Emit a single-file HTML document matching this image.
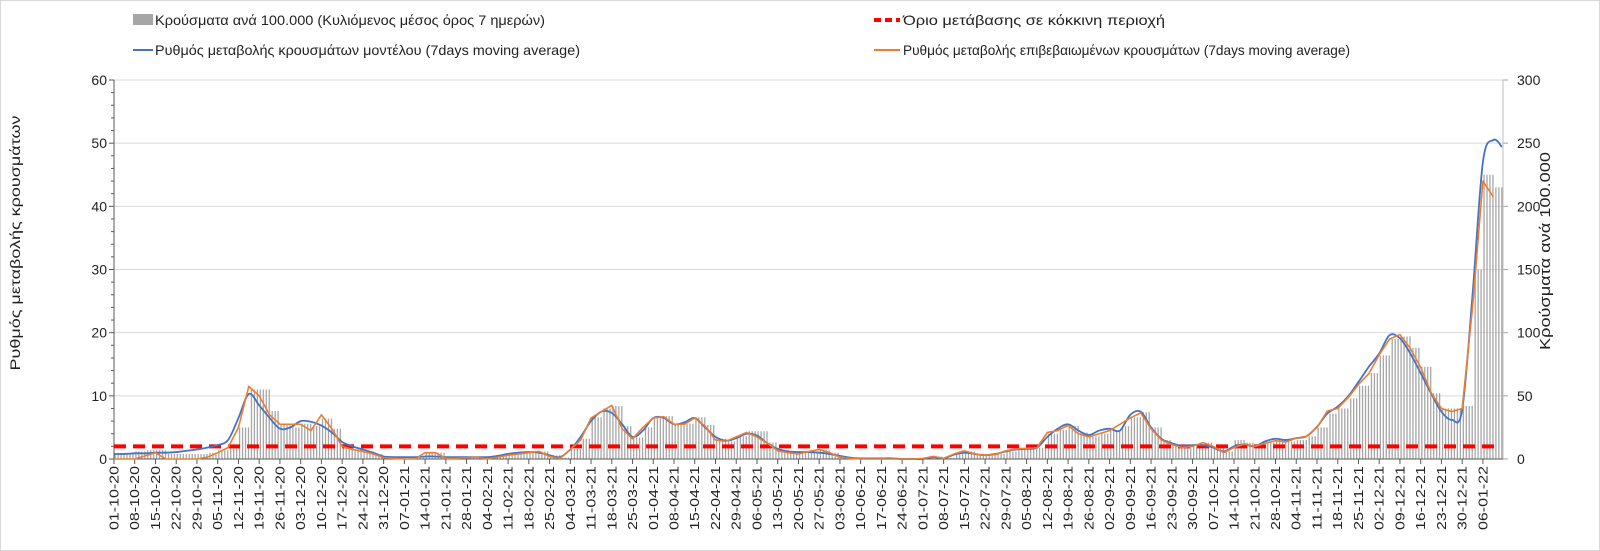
<!DOCTYPE html>
<html><head><meta charset="utf-8"><style>
html,body{margin:0;padding:0;background:#fff;}
svg{display:block;font-family:"Liberation Sans","DejaVu Sans",sans-serif;}
</style></head><body>
<svg id="chart" width="1600" height="551" viewBox="0 0 1600 551" xmlns="http://www.w3.org/2000/svg">
<rect x="0.5" y="0.5" width="1599" height="550" fill="#fff" stroke="#d9d9d9"/>
<g id="grid"></g>
<g id="bars"></g>
<g id="axes"></g>
<g id="lines"></g>
<g>
  <g>
    <rect x="133" y="14" width="20" height="11" fill="#a6a6a6"/>
    <text x="155" y="25" font-size="14" textLength="390" lengthAdjust="spacingAndGlyphs" fill="#222">Κρούσματα ανά 100.000 (Κυλιόμενος μέσος όρος 7 ημερών)</text>
  </g>
  <g>
    <line x1="133" y1="50" x2="153" y2="50" stroke="#4472c4" stroke-width="2"/>
    <text x="155" y="55" font-size="14" textLength="425" lengthAdjust="spacingAndGlyphs" fill="#222">Ρυθμός μεταβολής κρουσμάτων μοντέλου (7days moving average)</text>
  </g>
  <g>
    <line x1="874" y1="20" x2="900" y2="20" stroke="#ff0000" stroke-width="4" stroke-dasharray="7,4"/>
    <text x="903" y="25" font-size="14" textLength="262" lengthAdjust="spacingAndGlyphs" fill="#222">Όριο μετάβασης σε κόκκινη περιοχή</text>
  </g>
  <g>
    <line x1="874" y1="50" x2="900" y2="50" stroke="#ed7d31" stroke-width="2"/>
    <text x="903" y="55" font-size="14" textLength="447" lengthAdjust="spacingAndGlyphs" fill="#222">Ρυθμός μεταβολής επιβεβαιωμένων κρουσμάτων (7days moving average)</text>
  </g>
</g>
<text transform="translate(20,243) rotate(-90)" text-anchor="middle" font-size="14" textLength="255" lengthAdjust="spacingAndGlyphs" fill="#222">Ρυθμός μεταβολής κρουσμάτων</text>
<text transform="translate(1550,251) rotate(-90)" text-anchor="middle" font-size="15" textLength="198" lengthAdjust="spacingAndGlyphs" fill="#222">Κρούσματα ανά 100.000</text>
</svg>
<script>
// half-week samples (every 3.5 days from 01-10-2020)
const barsCases = [4,4,6,7,7,4,4,4,4,5,7,10,
25,55,55,38,28,25,28,26,32,24,12,8,6,4,
2,1,1,1,5,5,1,1,1,2,
2,3,4,5,6,6,3,1,8,16,33,40,
42,26,17,25,33,34,28,28,33,27,16,14,18,22,
22,13,7,5,5,6,7,5,2,1,
0,0,0,0,0,0,1,2,1,5,6,4,3,4,6,8,8,9,
20,23,26,21,18,20,23,26,33,37,25,15,11,9,10,13,
10,6,15,13,11,13,15,14,15,
18,25,36,40,48,58,68,82,95,97,88,73,52,40,40,42,150,225,215,238];
const modelRate = [0.8,0.8,0.9,0.9,1.0,1.0,1.1,1.3,1.5,1.8,2.2,3.0,
6.5,10.3,8.5,6.5,4.8,5.0,6.0,5.9,5.3,4.2,2.7,2.0,1.5,1.0,
0.4,0.3,0.3,0.3,0.4,0.4,0.3,0.3,0.3,0.3,
0.3,0.5,0.8,1.0,1.1,1.0,0.6,0.3,1.5,3.5,6.0,7.5,
7.3,5.5,3.5,4.5,6.5,6.5,5.5,5.8,6.5,5.0,3.5,2.9,3.3,4.0,
3.7,2.5,1.6,1.2,1.1,1.1,1.0,0.8,0.5,0.2,
0.1,0.1,0.1,0.1,0,0,0,0.3,0.1,0.7,1.0,0.8,0.6,0.8,1.2,1.5,1.6,1.8,
3.5,4.8,5.5,4.5,3.8,4.5,4.8,4.5,7.0,7.5,5.0,3.2,2.5,2.1,2.2,2.2,
1.8,1.2,2.0,2.3,2.0,2.8,3.2,3.0,3.3,
3.6,5.1,7.2,8.3,9.9,12.2,14.6,16.7,19.6,19.1,16.7,13.6,10.4,7.5,6.2,7.8,26,47,50.5,49.4];
const confirmedRate = [0,0,0,0.5,1.0,0,0,0,0,0.3,1.0,1.8,
5,11.5,10,7,5.5,5.5,5.5,4.5,7,4.8,2.0,1.5,1.2,0.8,
0.2,0.1,0,0,1.0,1.0,0.1,0.1,0.2,0.3,
0,0.3,0.6,0.8,1.0,1.2,0.4,0.1,1.5,3.0,6.5,7.5,
8.5,4.8,3.2,5.0,6.5,6.7,5.5,5.5,6.5,5.2,3.0,2.8,3.5,4.2,
3.5,2.5,1.3,1.0,0.8,1.2,1.5,1.0,0.3,0.1,
0,0,0,0,0,0,0.1,0.4,0.1,0.8,1.3,0.8,0.6,0.7,1.3,1.6,1.7,1.8,
4.2,4.5,5.3,4.0,3.5,4.0,4.5,5.5,6.5,7.3,4.8,3.0,2.3,1.8,2.0,2.6,
2.0,1.0,1.8,2.4,2.0,2.5,2.9,2.7,3.3,
3.6,5,7.6,8.0,9.7,11.8,13.5,16.5,19.0,19.7,17.5,14.5,10.5,8.0,7.5,8.0,24,44,41.5,null];
const redThreshold = [2];
const leftTicks = [0,10,20,30,40,50,60];
const rightTicks = [0,50,100,150,200,250,300];
const startDate = [2020,9,1];
const weekCount = [67];

const NS="http://www.w3.org/2000/svg";
const X0=114, X1=1503, Y0=459, YT=80, PXDAY=2.963;
const xDay=d=>X0+d*PXDAY;
const xIdx=k=>xDay(k*3.5);
const yL=v=>Y0-(v/60)*(Y0-YT);
const yR=v=>Y0-(v/300)*(Y0-YT);
function mk(tag,attrs,parent){const e=document.createElementNS(NS,tag);for(const k in attrs)e.setAttribute(k,attrs[k]);parent.appendChild(e);return e;}
const grid=document.getElementById('grid'), axes=document.getElementById('axes'), barsG=document.getElementById('bars'), linesG=document.getElementById('lines');

leftTicks.forEach(v=>{
  if(v>0){const g=mk('line',{x1:X0,x2:X1,y1:yL(v),y2:yL(v),stroke:'#d9d9d9','stroke-width':1},grid);
  
  }
  const t=mk('text',{x:X0-7,y:yL(v)+5,'text-anchor':'end','font-size':14,fill:'#222'},axes);
  t.textContent=v;
  
  
  mk('line',{x1:X0-5,x2:X0,y1:yL(v),y2:yL(v),stroke:'#595959'},axes);
});
for(let v=2;v<60;v+=2){if(v%10)mk('line',{x1:X0-3,x2:X0,y1:yL(v),y2:yL(v),stroke:'#595959'},axes);}
rightTicks.forEach(v=>{
  const t=mk('text',{x:X1+14,y:yR(v)+5,'font-size':14,fill:'#222'},axes);
  t.textContent=v;
  
  
  mk('line',{x1:X1,x2:X1+5,y1:yR(v),y2:yR(v),stroke:'#a6a6a6'},axes);
});
// bars, one per day
const nDays=barsCases.length*3.5;
for(let d=0;d<nDays;d++){
  const v=barsCases[Math.floor(d/3.5)];
  if(v<=0)continue;
  if(xDay(d)+1.8>X1)continue;
  const b=mk('rect',{x:xDay(d)+0.5,y:yR(v),width:1.3,height:Y0-yR(v),fill:'#a6a6a6'},barsG);
  
  
}
// axis lines
mk('line',{x1:X0,x2:X0,y1:YT,y2:Y0,stroke:'#595959'},axes);
mk('line',{x1:X1,x2:X1,y1:YT,y2:Y0,stroke:'#bfbfbf'},axes);
mk('line',{x1:X0,x2:X1,y1:Y0,y2:Y0,stroke:'#595959'},axes);
// date ticks
const base=new Date(startDate[0],startDate[1],startDate[2]);
for(let w=0;w<weekCount[0];w++){
  const x=xDay(w*7);
  mk('line',{x1:x,x2:x,y1:Y0,y2:Y0+5,stroke:'#595959'},axes);
  const dt=new Date(base.getTime()+w*7*86400000);
  const s=String(dt.getDate()).padStart(2,'0')+'-'+String(dt.getMonth()+1).padStart(2,'0')+'-'+String(dt.getFullYear()%100).padStart(2,'0');
  const t=mk('text',{transform:`translate(${x+4.5},${Y0+7}) rotate(-90)`,'text-anchor':'end','font-size':13,textLength:64,lengthAdjust:'spacingAndGlyphs',fill:'#222'},axes);
  t.textContent=s;
  
  
}
// threshold
const th=mk('line',{x1:X0,x2:X1-7,y1:yL(redThreshold[0]),y2:yL(redThreshold[0]),stroke:'#ff0000','stroke-width':4,'stroke-dasharray':'12,7'},linesG);


// lines
function smoothPath(pts){
  let d=`M${pts[0][0]},${pts[0][1]}`;
  for(let i=0;i<pts.length-1;i++){
    const p0=pts[Math.max(0,i-1)],p1=pts[i],p2=pts[i+1],p3=pts[Math.min(pts.length-1,i+2)];
    const c1=[p1[0]+(p2[0]-p0[0])/6,p1[1]+(p2[1]-p0[1])/6],c2=[p2[0]-(p3[0]-p1[0])/6,p2[1]-(p3[1]-p1[1])/6];
    d+=` C${c1[0]},${c1[1]} ${c2[0]},${c2[1]} ${p2[0]},${p2[1]}`;
  }
  return d;
}
const bluePts=modelRate.map((v,k)=>[Math.min(xIdx(k),X1-1),yL(v)]);
const bl=mk('path',{d:smoothPath(bluePts),fill:'none',stroke:'#4472c4','stroke-width':1.8},linesG);


const orPts=confirmedRate.map((v,k)=>v===null?null:[xIdx(k),yL(v)]).filter(p=>p);
const ol=mk('path',{d:'M'+orPts.map(p=>p.join(',')).join(' L'),fill:'none',stroke:'#ed7d31','stroke-width':1.6,'stroke-linejoin':'round'},linesG);


</script>
</body></html>
